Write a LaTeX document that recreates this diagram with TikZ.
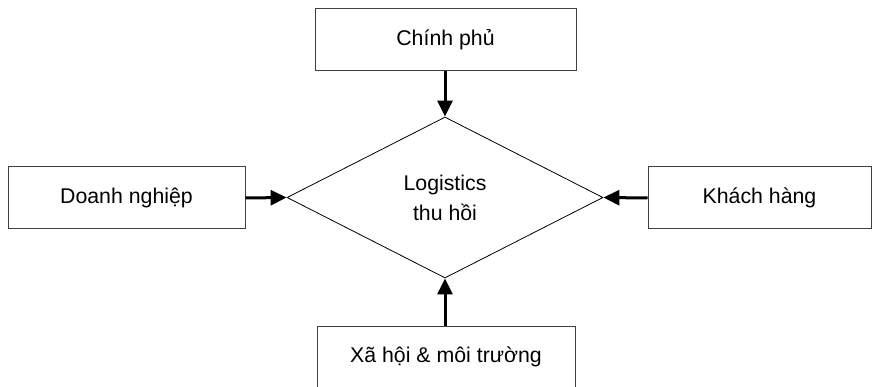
\documentclass[tikz,border=0pt]{standalone}
\usepackage{fontspec}
\setmainfont{Liberation Sans}
\usetikzlibrary{shapes.geometric,arrows.meta}
\begin{document}
\begin{tikzpicture}[x=1pt,y=-1pt,
  box/.style={draw=black!75,line width=1pt,rectangle,minimum height=62pt,inner sep=0pt,
    font=\fontsize{21.3}{30}\selectfont},
  conn/.style={line width=3pt,-{Triangle[length=16pt,width=15pt]}},
  dia/.style={draw=black,line width=0.8pt,diamond,inner sep=0pt,minimum width=316pt,minimum height=161pt,
    align=center,font=\fontsize{21.3}{30}\selectfont}]
\useasboundingbox (0,0) rectangle (872,387);
\node[box,minimum width=261pt] (gov) at (445.5,40) {Chính phủ};
\node[box,minimum width=237pt] (biz) at (126.5,198) {Doanh nghiệp};
\node[box,minimum width=223pt] (cust) at (759.5,198) {Khách hàng};
\node[box,minimum width=258pt] (soc) at (446,357) {Xã hội \& môi trường};
\node[dia] (rl) at (445,197.5) {Logistics\\thu hồi};
\draw[conn] (gov.south -| rl.north) -- (rl.north);
\draw[conn] (biz.east) -- (rl.west);
\draw[conn] (cust.west) -- (rl.east);
\draw[conn] (soc.north -| rl.south) -- (rl.south);
\end{tikzpicture}
\end{document}
